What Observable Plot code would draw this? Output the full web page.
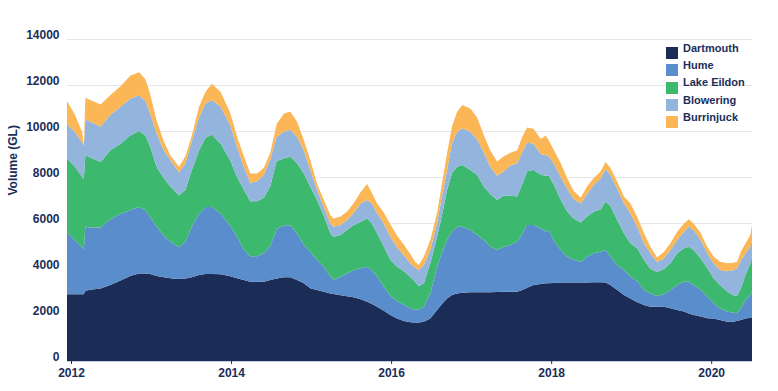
<!DOCTYPE html>
<html>
<head>
<meta charset="utf-8">
<script src="https://cdn.jsdelivr.net/npm/d3@7"></script>
<script src="https://cdn.jsdelivr.net/npm/@observablehq/plot@0.6"></script>
<style>
html, body { margin: 0; padding: 0; background: #ffffff; }
#wrap { position: relative; width: 778px; height: 391px; font-family: "Liberation Sans", Arial, sans-serif; }
.sw { position: absolute; left: 666px; width: 12px; height: 12px; }
.lb { position: absolute; left: 683px; font-weight: bold; font-size: 11px; line-height: 11px; color: #1a2e5a; white-space: nowrap; }
</style>
</head>
<body>
<div id="wrap"></div>
<script>
// Decimal years of the readings
const years = [
  2011.95, 2012.05, 2012.14, 2012.16, 2012.18, 2012.24, 2012.37, 2012.49, 2012.62, 2012.74,
  2012.85, 2012.93, 2012.99, 2013.07, 2013.16, 2013.24, 2013.35, 2013.43, 2013.51, 2013.60,
  2013.68, 2013.76, 2013.87, 2013.99, 2014.075, 2014.16, 2014.24, 2014.325, 2014.41, 2014.49,
  2014.57, 2014.66, 2014.74, 2014.825, 2014.91, 2014.99, 2015.075, 2015.16, 2015.24, 2015.28,
  2015.37, 2015.45, 2015.53, 2015.62, 2015.70, 2015.76, 2015.825, 2015.91, 2015.99, 2016.075,
  2016.16, 2016.24, 2016.30, 2016.345, 2016.41, 2016.49, 2016.575, 2016.64, 2016.70, 2016.76,
  2016.825, 2016.89, 2016.99, 2017.075, 2017.16, 2017.24, 2017.325, 2017.41, 2017.49, 2017.575,
  2017.64, 2017.70, 2017.78, 2017.87, 2017.93, 2017.97, 2018.03, 2018.12, 2018.20, 2018.28,
  2018.37, 2018.45, 2018.53, 2018.62, 2018.68, 2018.74, 2018.825, 2018.91, 2018.99, 2019.075,
  2019.16, 2019.24, 2019.325, 2019.41, 2019.49, 2019.575, 2019.66, 2019.72, 2019.78, 2019.87,
  2019.95, 2020.03, 2020.11, 2020.20, 2020.28, 2020.325, 2020.37, 2020.43, 2020.49, 2020.51
];

const dartmouth = [
  2900, 2900, 2900, 2900, 3050, 3100, 3150, 3300, 3500, 3700,
  3800, 3800, 3780, 3700, 3640, 3600, 3560, 3590, 3640, 3740,
  3780, 3780, 3770, 3680, 3600, 3520, 3450, 3450, 3450, 3520,
  3590, 3640, 3640, 3520, 3380, 3160, 3090, 3010, 2940, 2910,
  2860, 2810, 2770, 2680, 2580, 2480, 2360, 2190, 2000, 1850,
  1740, 1690, 1670, 1670, 1710, 1850, 2220, 2500, 2720, 2870,
  2940, 2970, 2990, 2990, 2990, 2990, 3000, 3010, 3010, 3010,
  3090, 3190, 3300, 3350, 3380, 3380, 3390, 3410, 3410, 3410,
  3410, 3410, 3420, 3420, 3410, 3300, 3090, 2870, 2720, 2550,
  2440, 2360, 2360, 2360, 2290, 2220, 2150, 2070, 2000, 1930,
  1860, 1850, 1780, 1710, 1710, 1750, 1780, 1850, 1880, 1900
];

const hume = [
  2700, 2350, 2050, 1950, 2800, 2700, 2650, 2850, 2900, 2850,
  2900, 2750, 2470, 2150, 1810, 1600, 1390, 1610, 2210, 2660,
  2920, 2920, 2630, 2200, 1800, 1330, 1100, 1100, 1250, 1480,
  2160, 2260, 2260, 2030, 1670, 1590, 1310, 1090, 740, 610,
  810, 1000, 1180, 1350, 1520, 1470, 1310, 1040, 850, 750,
  710, 610, 550, 580, 650, 1090, 1880, 2250, 2540, 2750,
  2900, 2870, 2710, 2490, 2270, 1980, 1830, 1960, 2030, 2180,
  2460, 2720, 2610, 2420, 2240, 2320, 1870, 1420, 1130, 990,
  910, 1130, 1260, 1330, 1420, 1240, 1080, 1090, 950, 930,
  650, 580, 470, 540, 800, 1080, 1300, 1380, 1300, 1160,
  940, 660, 510, 440, 390, 330, 510, 800, 990, 1120
];

const lakeEildon = [
  3200, 3200, 3050, 3050, 3100, 3050, 2850, 3000, 3050, 3250,
  3300, 3250, 3050, 2600, 2500, 2400, 2250, 2250, 2450, 2750,
  3000, 3150, 3050, 2840, 2600, 2600, 2400, 2400, 2400, 2600,
  2950, 2900, 2980, 3050, 3100, 2830, 2600, 2200, 1870, 1880,
  1810, 1890, 1950, 2020, 2100, 2030, 1880, 1740, 1550, 1500,
  1450, 1350, 1230, 1000, 1020, 1310, 1300, 1650, 2170, 2540,
  2610, 2680, 2600, 2610, 2320, 2280, 2170, 2230, 2160, 1960,
  2150, 2340, 2390, 2330, 2430, 2350, 2440, 2170, 1960, 1800,
  1700, 1740, 1810, 1850, 2100, 2210, 1960, 1590, 1450, 1420,
  1310, 1060, 1040, 1100, 1160, 1380, 1450, 1520, 1530, 1370,
  1240, 1090, 1010, 870, 750, 770, 860, 1100, 1380, 1520
];

const blowering = [
  1500, 1500, 1500, 1450, 1550, 1550, 1550, 1550, 1600, 1600,
  1550, 1500, 1450, 1450, 1200, 1150, 1000, 1150, 1250, 1450,
  1500, 1500, 1600, 1530, 1300, 1000, 800, 850, 1000, 1150,
  1050, 1170, 1170, 1150, 1000, 720, 450, 400, 450, 440,
  430, 430, 520, 800, 800, 870, 870, 1010, 1000, 850,
  700, 600, 600, 710, 790, 580, 600, 850, 870, 1300,
  1520, 1600, 1670, 1550, 1470, 1200, 1050, 1050, 1300, 1450,
  1400, 1250, 1150, 900, 900, 850, 900, 1000, 1000, 850,
  830, 970, 1160, 1350, 1420, 1350, 1370, 1300, 1300, 940,
  720, 680, 430, 460, 580, 580, 720, 870, 870, 800,
  640, 650, 660, 880, 1110, 1180, 1240, 930, 720, 720
];

const burrinjuck = [
  1000, 750, 450, 50, 950, 950, 950, 850, 900, 1000,
  1000, 950, 850, 550, 400, 200, 250, 300, 250, 450,
  500, 700, 650, 530, 450, 450, 400, 350, 300, 300,
  550, 780, 800, 650, 450, 450, 250, 300, 350, 360,
  370, 370, 430, 500, 700, 450, 430, 470, 550, 500,
  450, 400, 270, 210, 370, 430, 450, 550, 730, 730,
  870, 1010, 1010, 950, 750, 700, 620, 650, 550, 550,
  650, 650, 650, 650, 850, 700, 600, 600, 450, 350,
  250, 350, 300, 300, 300, 300, 300, 300, 430, 430,
  430, 290, 200, 290, 290, 360, 360, 320, 280, 290,
  290, 290, 360, 350, 310, 290, 360, 440, 510, 650
];

const seriesNames = ["Dartmouth", "Hume", "Lake Eildon", "Blowering", "Burrinjuck"];
const seriesValues = [dartmouth, hume, lakeEildon, blowering, burrinjuck];
const seriesColors = ["#1b2d57", "#5a8dcb", "#3cb96f", "#93b4dd", "#fbb655"];

const yTicks = [0, 2000, 4000, 6000, 8000, 10000, 12000, 14000];
const xTicks = [2012, 2014, 2016, 2018, 2020];
const yLabel = "Volume (GL)";

const data = [];
years.forEach((t, i) => {
  seriesNames.forEach((s, j) => data.push({t, series: s, value: seriesValues[j][i]}));
});

const ink = "#1a2e5a";
const font = "'Liberation Sans', Arial, sans-serif";

const chart = Plot.plot({
  width: 778,
  height: 391,
  marginLeft: 67,
  marginRight: 26,
  marginTop: 39,
  marginBottom: 30,
  x: {domain: [2011.95, 2020.51]},
  y: {domain: [0, 14000]},
  color: {domain: seriesNames, range: seriesColors},
  style: {fontFamily: font, fontSize: "12px", fontWeight: "bold", color: ink, background: "#ffffff", overflow: "visible"},
  marks: [
    Plot.gridY(yTicks.slice(1), {stroke: "#e6e6e6", strokeOpacity: 1}),
    Plot.areaY(data, {x: "t", y: "value", fill: "series", order: seriesNames}),
    Plot.ruleY([0], {stroke: "#c3cde0", strokeWidth: 1}),
    Plot.axisY({ticks: yTicks, tickSize: 0, tickPadding: 8, dy: -4, label: null, tickFormat: d => String(d), fontWeight: "bold", fill: ink}),
    Plot.axisX({ticks: xTicks, tickSize: 3, tickPadding: 4, label: null, tickFormat: d => String(d), fontWeight: "bold", fill: ink, stroke: ink}),
    Plot.text([yLabel], {frameAnchor: "left", dx: -54, dy: -5, rotate: -90, fontWeight: "bold", fontSize: 12, fill: ink})
  ]
});

const wrap = document.getElementById("wrap");
wrap.appendChild(chart);

seriesNames.forEach((s, i) => {
  const sw = document.createElement("div");
  sw.className = "sw";
  sw.style.top = (47 + i * 17.3) + "px";
  sw.style.background = seriesColors[i];
  wrap.appendChild(sw);
  const lb = document.createElement("div");
  lb.className = "lb";
  lb.style.top = (42.7 + i * 17.3) + "px";
  lb.textContent = s;
  wrap.appendChild(lb);
});
</script>
</body>
</html>
